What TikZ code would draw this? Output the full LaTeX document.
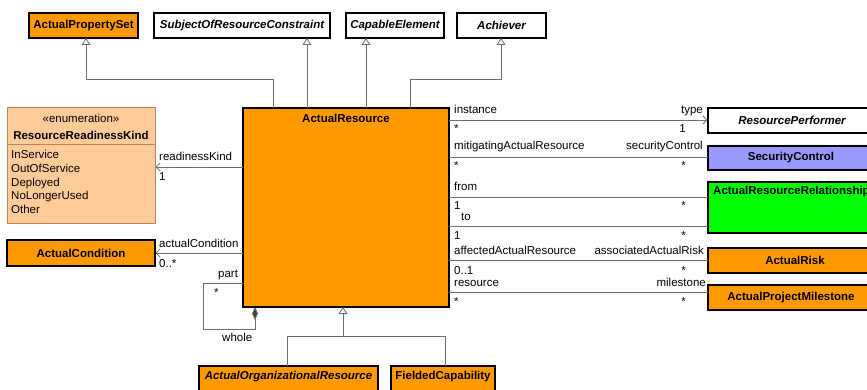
\documentclass[tikz,border=0pt]{standalone}
\usepackage{fontspec}
\setmainfont{Liberation Sans}
\usetikzlibrary{arrows.meta}
\definecolor{orng}{RGB}{255,153,0}
\definecolor{peach}{RGB}{255,204,153}
\definecolor{peachline}{RGB}{180,135,95}
\definecolor{lav}{RGB}{153,153,255}
\definecolor{grn}{RGB}{0,255,0}
\definecolor{conn}{RGB}{110,110,110}
\tikzset{
  cls/.style={draw=black, line width=1.1pt},
  ttl/.style={font=\fontsize{11.5}{13}\selectfont\bfseries, inner sep=0},
  ittl/.style={font=\fontsize{11.5}{13}\selectfont\bfseries\itshape, inner sep=0},
  lbl/.style={font=\fontsize{11.5}{13}\selectfont, inner sep=0},
  gen/.style={draw=conn, line width=0.8pt, -{Triangle[open,length=7pt,width=9pt,fill=white]}},
  assoc/.style={draw=conn, line width=0.8pt, -{Straight Barb[length=4pt,width=8pt]}},
  plain/.style={draw=conn, line width=0.8pt},
}
\begin{document}
\begin{tikzpicture}[x=1pt,y=-1pt]
\useasboundingbox (0,0) rectangle (867,390);
\clip (0,0) rectangle (867,390);
\fill[white] (0,0) rectangle (867,390);
% top boxes
\draw[cls, fill=orng] (29,13) rectangle (138,38);
\node[ttl] (aps) at (83.5,25.5) {ActualPropertySet};
\coordinate (apsB) at (86,38);
\draw[cls, fill=white] (154,13) rectangle (330,38);
\node[ittl] (sorc) at (242,25.5) {SubjectOfResourceConstraint};
\coordinate (sorcB) at (307,38);
\draw[cls, fill=white] (346,13) rectangle (444,38);
\node[ittl] (ce) at (395,25.5) {CapableElement};
\coordinate (ceB) at (366,38);
\draw[cls, fill=white] (457,13) rectangle (546,38);
\node[ittl] (ach) at (501.5,25.5) {Achiever};
\coordinate (achB) at (501,38);
% ActualResource
\draw[cls, fill=orng] (243,108) rectangle (449,307);
\node[ttl] (ar) at (346,118) {ActualResource};
\coordinate (arT1) at (273,108);
\coordinate (arT2) at (307,108);
\coordinate (arT3) at (366,108);
\coordinate (arT4) at (410,108);
% generalizations up
\draw[gen] (arT1) -- (273,79) -- (86,79) -- (apsB);
\draw[gen] (arT2) -- (sorcB);
\draw[gen] (arT3) -- (ceB);
\draw[gen] (arT4) -- (410,79) -- (501,79) -- (achB);
% enumeration
\draw[draw=peachline, line width=1pt, fill=peach] (7,108) rectangle (155,223);
\draw[draw=peachline, line width=1pt] (7,145) -- (155,145);
\node[lbl] (enst) at (81,118) {«enumeration»};
\node[ttl] (rrk) at (81,135) {ResourceReadinessKind};
\node[lbl, anchor=base west] (l1) at (11,159) {InService};
\node[lbl, anchor=base west] (l2) at (11,173) {OutOfService};
\node[lbl, anchor=base west] (l3) at (11,186.5) {Deployed};
\node[lbl, anchor=base west] (l4) at (11,200) {NoLongerUsed};
\node[lbl, anchor=base west] (l5) at (11,214) {Other};
% ActualCondition
\draw[cls, fill=orng] (7,240) rectangle (155,266);
\node[ttl] (ac) at (81,253) {ActualCondition};
% left associations
\coordinate (rkA) at (243,167);
\coordinate (rkB) at (155.5,167);
\draw[assoc] (rkA) -- (rkB);
\node[lbl, anchor=base west] at (159,161) {readinessKind};
\node[lbl, anchor=base west] at (159,181) {1};
\coordinate (acA) at (243,253);
\coordinate (acB) at (155.5,253);
\draw[assoc] (acA) -- (acB);
\node[lbl, anchor=base west] at (159,247) {actualCondition};
\node[lbl, anchor=base west] at (159,267) {0..*};
% self loop
\coordinate (slA) at (243,283);
\coordinate (slB) at (255,307);
\draw[plain, -{Diamond[length=13pt,width=6pt,fill=black!75]}] (slA) -- (203,283) -- (203,329) -- (255,329) -- (slB);
\node[lbl, anchor=base west] at (218,277) {part};
\node[lbl, anchor=base west] at (214,296) {*};
\node[lbl, anchor=base west] at (222,341) {whole};
% right boxes
\draw[cls, fill=white] (708,108) rectangle (876,133);
\node[ittl] (rp) at (792,120.5) {ResourcePerformer};
\draw[cls, fill=lav] (708,146) rectangle (876,170);
\node[ttl] (sc) at (791,158) {SecurityControl};
\draw[cls, fill=grn] (708,182) rectangle (900,233);
\node[ttl, anchor=west] (arr) at (713,192) {ActualResourceRelationship};
\draw[cls, fill=orng] (708,248) rectangle (882,273);
\node[ttl] (risk) at (795,260.5) {ActualRisk};
\draw[cls, fill=orng] (708,285) rectangle (876,310);
\node[ttl] (apm) at (791,297.5) {ActualProjectMilestone};
% right associations
\coordinate (r1a) at (449,120); \coordinate (r1b) at (707.5,120);
\draw[assoc] (r1a) -- (r1b);
\node[lbl, anchor=base west] at (454,114) {instance};
\node[lbl, anchor=base west] at (454,133) {*};
\node[lbl, anchor=base east] at (703,114) {type};
\node[lbl, anchor=base east] at (686,133) {1};
\coordinate (r2a) at (449,157); \coordinate (r2b) at (708,157);
\draw[plain] (r2a) -- (r2b);
\node[lbl, anchor=base west] at (454,150) {mitigatingActualResource};
\node[lbl, anchor=base west] at (454,170) {*};
\node[lbl, anchor=base east] at (703,150) {securityControl};
\node[lbl, anchor=base east] at (686,170) {*};
\coordinate (r3a) at (449,197); \coordinate (r3b) at (708,197);
\draw[plain] (r3a) -- (r3b);
\node[lbl, anchor=base west] at (454,191) {from};
\node[lbl, anchor=base west] at (454,210) {1};
\node[lbl, anchor=base east] at (686,210) {*};
\coordinate (r4a) at (449,226); \coordinate (r4b) at (708,226);
\draw[plain] (r4a) -- (r4b);
\node[lbl, anchor=base west] at (461,220) {to};
\node[lbl, anchor=base west] at (454,239) {1};
\node[lbl, anchor=base east] at (686,239) {*};
\coordinate (r5a) at (449,260); \coordinate (r5b) at (708,260);
\draw[plain] (r5a) -- (r5b);
\node[lbl, anchor=base west] at (454,254) {affectedActualResource};
\node[lbl, anchor=base west] at (454,274) {0..1};
\node[lbl, anchor=base east] at (704,254) {associatedActualRisk};
\node[lbl, anchor=base east] at (686,274) {*};
\coordinate (r6a) at (449,292); \coordinate (r6b) at (708,292);
\draw[plain] (r6a) -- (r6b);
\node[lbl, anchor=base west] at (454,286) {resource};
\node[lbl, anchor=base west] at (454,305) {*};
\node[lbl, anchor=base east] at (706,286) {milestone};
\node[lbl, anchor=base east] at (686,305) {*};
% bottom boxes
\draw[cls, fill=orng] (199,366) rectangle (378,395);
\node[ittl] (aor) at (288.5,376.5) {ActualOrganizationalResource};
\draw[cls, fill=orng] (391,366) rectangle (495,395);
\node[ttl] (fc) at (443,376.5) {FieldedCapability};
\coordinate (arB) at (343,307);
\coordinate (aorT) at (287,366);
\coordinate (fcT) at (445,366);
\draw[plain] (aorT) -- (287,336) -- (445,336) -- (fcT);
\draw[gen] (343,336) -- (arB);
\end{tikzpicture}
\end{document}
